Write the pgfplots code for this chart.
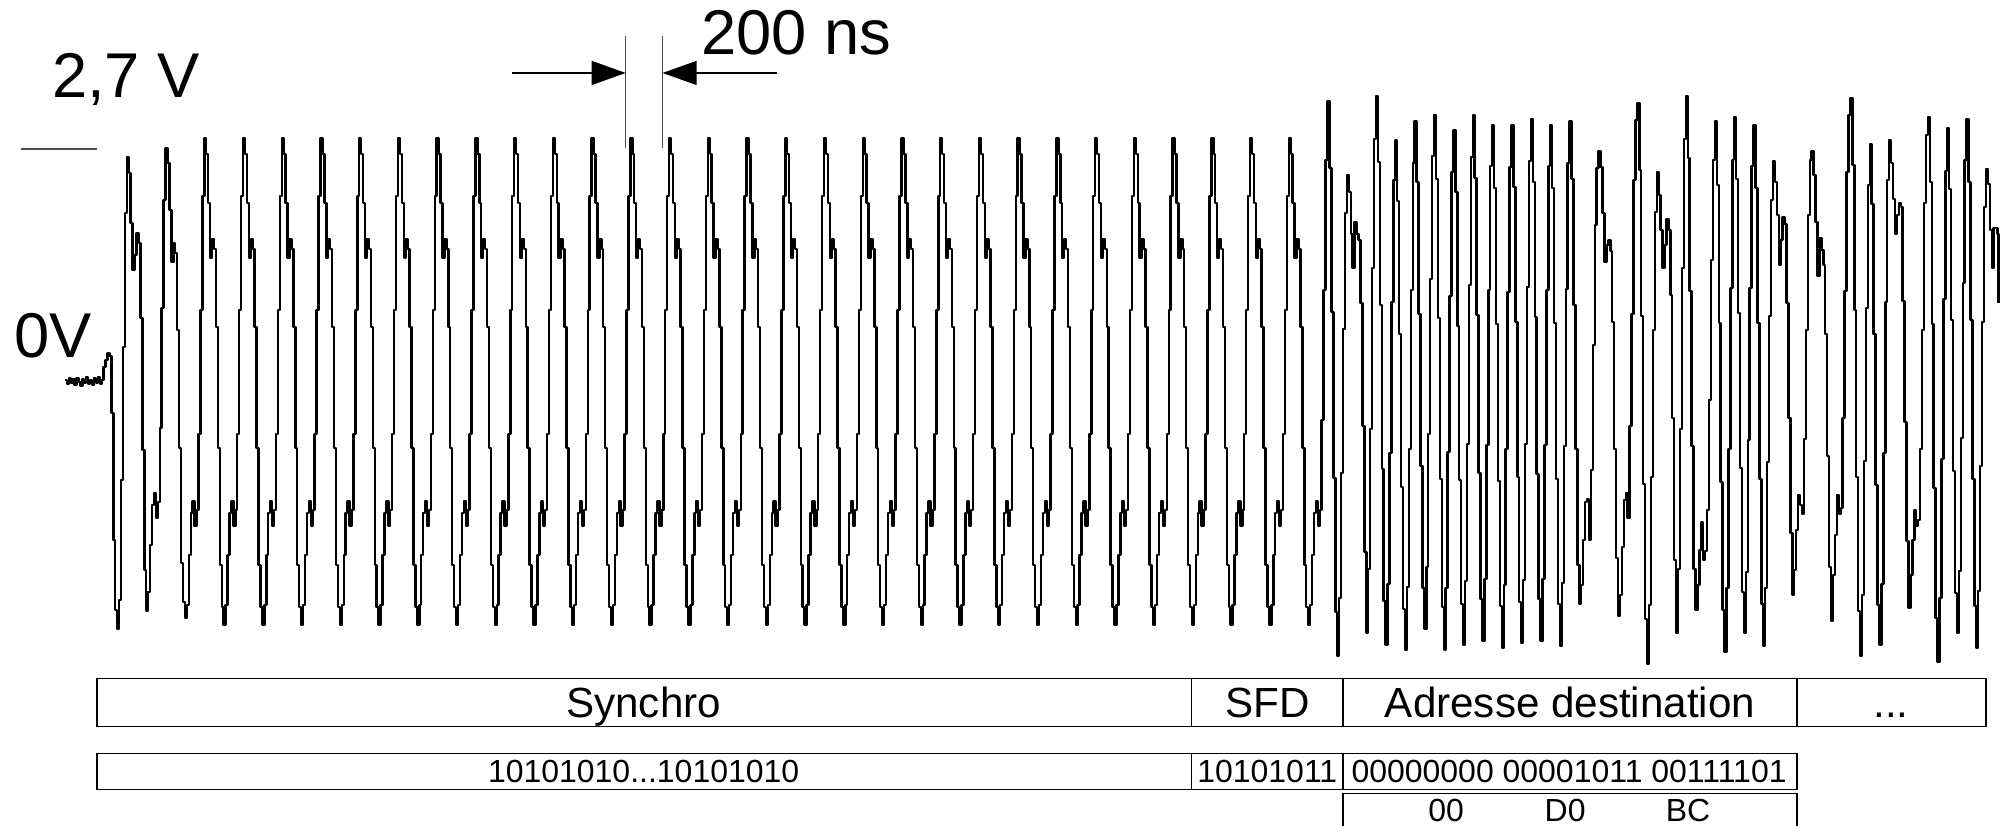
\documentclass[border=0pt]{standalone}
\usepackage{pgfplots}
\pgfplotsset{compat=1.18}
\usepackage{fontspec}
\setmainfont{Liberation Sans}
\usetikzlibrary{arrows.meta}
\begin{document}
\begin{tikzpicture}
\useasboundingbox (0,0) rectangle (20.06,8.25);
\begin{axis}[at={(0,0)}, anchor=south west, scale only axis,
  width=20.06cm, height=8.25cm,
  xmin=-0.5, xmax=1035.35, ymin=0, ymax=825, y dir=reverse,
  hide axis, clip=false]
\addplot[const plot, black, line width=0.7pt, line join=round] coordinates {
(33,380)(34,384)(35,378)(36,383)(37,379)(38,385)(39,378)(40,382)(41,386)(42,379)(43,383)(44,377)(45,384)(46,380)(47,385)(48,378)(49,383)(50,377)(51,384)(52,380)
(53,367)(54,360)(55,353)(56,356)(57,413)(58,540)(59,610)(60,629)(61,600)(62,480)(63,347)(64,213)(65,157)(66,173)(67,223)(68,270)(69,255)(70,233)(71,243)(72,318)(73,450)(74,570)
(75,611)(76,592)(77,545)(78,505)(79,493)(80,518)(81,502)(82,428)(83,308)(84,200)(85,148)(86,163)(87,210)(88,262)(89,243)(90,253)(91,330)(92,448)(93,563)(94,602)
(95,618)(96,605)(97,555)(98,513)(99,501)(100,526)(101,510)(102,434)(103,310)(104,196)(105,138)(106,154)(107,203)(108,258)(109,239)(110,249)(111,327)(112,448)(113,565)(114,607)
(115,625)(116,605)(117,555)(118,513)(119,501)(120,526)(121,510)(122,434)(123,310)(124,196)(125,138)(126,154)(127,203)(128,258)(129,239)(130,249)(131,327)(132,448)(133,565)(134,607)
(135,625)(136,605)(137,555)(138,513)(139,501)(140,526)(141,510)(142,434)(143,310)(144,196)(145,138)(146,154)(147,203)(148,258)(149,239)(150,249)(151,327)(152,448)(153,565)(154,607)
(155,625)(156,605)(157,555)(158,513)(159,501)(160,526)(161,510)(162,434)(163,310)(164,196)(165,138)(166,154)(167,203)(168,258)(169,239)(170,249)(171,327)(172,448)(173,565)(174,607)
(175,625)(176,605)(177,555)(178,513)(179,501)(180,526)(181,510)(182,434)(183,310)(184,196)(185,138)(186,154)(187,203)(188,258)(189,239)(190,249)(191,327)(192,448)(193,565)(194,607)
(195,625)(196,605)(197,555)(198,513)(199,501)(200,526)(201,510)(202,434)(203,310)(204,196)(205,138)(206,154)(207,203)(208,258)(209,239)(210,249)(211,327)(212,448)(213,565)(214,607)
(215,625)(216,605)(217,555)(218,513)(219,501)(220,526)(221,510)(222,434)(223,310)(224,196)(225,138)(226,154)(227,203)(228,258)(229,239)(230,249)(231,327)(232,448)(233,565)(234,607)
(235,625)(236,605)(237,555)(238,513)(239,501)(240,526)(241,510)(242,434)(243,310)(244,196)(245,138)(246,154)(247,203)(248,258)(249,239)(250,249)(251,327)(252,448)(253,565)(254,607)
(255,625)(256,605)(257,555)(258,513)(259,501)(260,526)(261,510)(262,434)(263,310)(264,196)(265,138)(266,154)(267,203)(268,258)(269,239)(270,249)(271,327)(272,448)(273,565)(274,607)
(275,625)(276,605)(277,555)(278,513)(279,501)(280,526)(281,510)(282,434)(283,310)(284,196)(285,138)(286,154)(287,203)(288,258)(289,239)(290,249)(291,327)(292,448)(293,565)(294,607)
(295,625)(296,605)(297,555)(298,513)(299,501)(300,526)(301,510)(302,434)(303,310)(304,196)(305,138)(306,154)(307,203)(308,258)(309,239)(310,249)(311,327)(312,448)(313,565)(314,607)
(315,625)(316,605)(317,555)(318,513)(319,501)(320,526)(321,510)(322,434)(323,310)(324,196)(325,138)(326,154)(327,203)(328,258)(329,239)(330,249)(331,327)(332,448)(333,565)(334,607)
(335,625)(336,605)(337,555)(338,513)(339,501)(340,526)(341,510)(342,434)(343,310)(344,196)(345,138)(346,154)(347,203)(348,258)(349,239)(350,249)(351,327)(352,448)(353,565)(354,607)
(355,625)(356,605)(357,555)(358,513)(359,501)(360,526)(361,510)(362,434)(363,310)(364,196)(365,138)(366,154)(367,203)(368,258)(369,239)(370,249)(371,327)(372,448)(373,565)(374,607)
(375,625)(376,605)(377,555)(378,513)(379,501)(380,526)(381,510)(382,434)(383,310)(384,196)(385,138)(386,154)(387,203)(388,258)(389,239)(390,249)(391,327)(392,448)(393,565)(394,607)
(395,625)(396,605)(397,555)(398,513)(399,501)(400,526)(401,510)(402,434)(403,310)(404,196)(405,138)(406,154)(407,203)(408,258)(409,239)(410,249)(411,327)(412,448)(413,565)(414,607)
(415,625)(416,605)(417,555)(418,513)(419,501)(420,526)(421,510)(422,434)(423,310)(424,196)(425,138)(426,154)(427,203)(428,258)(429,239)(430,249)(431,327)(432,448)(433,565)(434,607)
(435,625)(436,605)(437,555)(438,513)(439,501)(440,526)(441,510)(442,434)(443,310)(444,196)(445,138)(446,154)(447,203)(448,258)(449,239)(450,249)(451,327)(452,448)(453,565)(454,607)
(455,625)(456,605)(457,555)(458,513)(459,501)(460,526)(461,510)(462,434)(463,310)(464,196)(465,138)(466,154)(467,203)(468,258)(469,239)(470,249)(471,327)(472,448)(473,565)(474,607)
(475,625)(476,605)(477,555)(478,513)(479,501)(480,526)(481,510)(482,434)(483,310)(484,196)(485,138)(486,154)(487,203)(488,258)(489,239)(490,249)(491,327)(492,448)(493,565)(494,607)
(495,625)(496,605)(497,555)(498,513)(499,501)(500,526)(501,510)(502,434)(503,310)(504,196)(505,138)(506,154)(507,203)(508,258)(509,239)(510,249)(511,327)(512,448)(513,565)(514,607)
(515,625)(516,605)(517,555)(518,513)(519,501)(520,526)(521,510)(522,434)(523,310)(524,196)(525,138)(526,154)(527,203)(528,258)(529,239)(530,249)(531,327)(532,448)(533,565)(534,607)
(535,625)(536,605)(537,555)(538,513)(539,501)(540,526)(541,510)(542,434)(543,310)(544,196)(545,138)(546,154)(547,203)(548,258)(549,239)(550,249)(551,327)(552,448)(553,565)(554,607)
(555,625)(556,605)(557,555)(558,513)(559,501)(560,526)(561,510)(562,434)(563,310)(564,196)(565,138)(566,154)(567,203)(568,258)(569,239)(570,249)(571,327)(572,448)(573,565)(574,607)
(575,625)(576,605)(577,555)(578,513)(579,501)(580,526)(581,510)(582,434)(583,310)(584,196)(585,138)(586,154)(587,203)(588,258)(589,239)(590,249)(591,327)(592,448)(593,565)(594,607)
(595,625)(596,605)(597,555)(598,513)(599,501)(600,526)(601,510)(602,434)(603,310)(604,196)(605,138)(606,154)(607,203)(608,258)(609,239)(610,249)(611,327)(612,448)(613,565)(614,607)
(615,625)(616,605)(617,555)(618,513)(619,501)(620,526)(621,510)(622,434)(623,310)(624,196)(625,138)(626,154)(627,203)(628,258)(629,239)(630,249)(631,327)(632,448)(633,565)(634,607)
(635,625)(636,605)(637,555)(638,513)(639,501)(640,526)(641,510)(642,434)(643,310)(644,196)(645,138)(646,154)(647,203)(648,258)(649,239)(650,249)(651,327)(652,448)(653,565)(654,607)
(655,625)(656,605)(657,555)(658,513)(659,501)(660,526)(661,510)(662,434)(663,310)(664,196)(665,138)(666,154)(667,203)(668,258)(669,239)(670,249)(671,327)(672,448)(673,565)(674,607)
(675,625)(676,605)(677,555)(678,513)(679,501)(680,526)(681,510)(682,420)(683,290)(684,160)(685,101)
(686,168)(687,312)(688,478)(689,612)(690,656)(691,598)(692,473)(693,329)(694,213)(695,175)(696,192)(697,234)(698,268)(699,222)(700,234)(701,240)(702,303)(703,426)(704,552)(705,633)
(706,569)(707,429)(708,268)(709,139)(710,96)(711,162)(712,305)(713,469)(714,601)(715,645)(716,584)(717,453)(718,302)(719,180)(720,140)(721,201)(722,334)(723,487)(724,609)(725,650)
(726,587)(727,449)(728,290)(729,163)(730,121)(731,182)(732,314)(733,466)(734,588)(735,629)(736,567)(737,434)(738,279)(739,156)(740,115)(741,179)(742,318)(743,479)(744,607)(745,650)
(746,588)(747,452)(748,296)(749,172)(750,130)(751,192)(752,326)(753,480)(754,604)(755,645)(756,581)(757,444)(758,285)(759,157)(760,115)(761,178)(762,315)(763,473)(764,599)(765,641)
(766,579)(767,445)(768,290)(769,166)(770,125)(771,188)(772,324)(773,481)(774,606)(775,648)(776,585)(777,449)(778,292)(779,167)(780,125)(781,187)(782,322)(783,477)(784,602)(785,643)
(786,580)(787,444)(788,287)(789,161)(790,119)(791,182)(792,317)(793,474)(794,599)(795,641)(796,579)(797,445)(798,290)(799,166)(800,125)(801,188)(802,323)(803,479)(804,604)(805,646)
(806,583)(807,446)(808,289)(809,163)(810,121)(811,179)(812,305)(813,449)(814,565)(815,604)(816,585)(817,540)(818,502)(819,499)(820,540)(821,470)(822,345)(823,225)(824,168)(825,151)
(826,167)(827,213)(828,262)(829,245)(830,240)(831,251)(832,322)(833,449)(834,558)(835,616)(836,595)(837,547)(838,500)(839,493)(840,518)(841,426)(842,314)(843,180)(844,120)(845,103)
(846,170)(847,316)(848,484)(849,619)(850,664)(851,605)(852,477)(853,330)(854,212)(855,172)(856,195)(857,230)(858,268)(859,245)(860,219)(861,230)(862,295)(863,418)(864,560)(865,633)
(866,569)(867,429)(868,268)(869,139)(870,96)(871,158)(872,291)(873,446)(874,569)(875,610)(876,585)(877,550)(878,522)(879,560)(880,551)(881,510)(882,400)(883,260)(884,160)(885,121)
(886,185)(887,323)(888,482)(889,610)(890,652)(891,588)(892,449)(893,288)(894,160)(895,117)(896,179)(897,313)(898,468)(899,592)(900,633)(901,572)(902,440)(903,288)(904,166)(905,125)
(906,188)(907,323)(908,479)(909,604)(910,646)(911,588)(912,462)(913,316)(914,200)(915,161)(916,182)(917,215)(918,265)(919,240)(920,217)(921,224)(922,303)(923,418)(924,533)(925,595)
(926,570)(927,530)(928,495)(929,505)(930,514)(931,439)(932,330)(933,215)(934,160)(935,151)(936,175)(937,222)(938,276)(939,238)(940,250)(941,265)(942,334)(943,456)(944,567)(945,621)
(946,575)(947,535)(948,495)(949,514)(950,508)(951,418)(952,291)(953,172)(954,115)(955,98)(956,165)(957,310)(958,477)(959,611)(960,656)(961,595)(962,461)(963,308)(964,185)(965,144)
(966,204)(967,334)(968,485)(969,605)(970,645)(971,584)(972,453)(973,302)(974,180)(975,140)(976,163)(977,199)(978,234)(979,215)(980,203)(981,207)(982,301)(983,422)(984,541)(985,608)
(986,575)(987,540)(988,510)(989,526)(990,520)(991,449)(992,330)(993,203)(994,135)(995,117)(996,182)(997,324)(998,488)(999,618)(1000,662)(1001,598)(1002,459)(1003,299)(1004,171)(1005,128)
(1006,189)(1007,320)(1008,471)(1009,593)(1010,633)(1011,571)(1012,438)(1013,283)(1014,160)(1015,119)(1016,182)(1017,320)(1018,479)(1019,606)(1020,648)(1021,591)(1022,466)(1023,322)(1024,207)(1025,169)
(1026,184)(1027,230)(1028,268)(1029,228)(1030,228)(1031,234)(1031.5,303)
};
\end{axis}
\begin{scope}[x=0.01cm, y=-0.01cm, yshift=8.25cm]
% voltage scale
\draw[black!70, line width=0.4pt] (21,149) -- (97,149);
\node[anchor=base, inner sep=0pt, font=\fontsize{18}{20}\selectfont] at (126,98) {2,7 V};
\node[anchor=base, inner sep=0pt, font=\fontsize{18}{20}\selectfont] at (53,358) {0V};
% time marker
\draw[black!70, line width=0.4pt] (626,36) -- (626,148);
\draw[black!70, line width=0.4pt] (663,36) -- (663,148);
\draw[line width=0.4pt, -{Triangle[length=0.34cm,width=0.24cm]}] (512,73) -- (626,73);
\draw[line width=0.4pt, -{Triangle[length=0.34cm,width=0.24cm]}] (777,73) -- (663,73);
\node[anchor=base, inner sep=0pt, font=\fontsize{18}{20}\selectfont] at (797,55) {200 ns};
% frame boxes
\draw[line width=0.45pt] (97,679) rectangle (1987,727);
\draw[line width=0.45pt] (1192,679) -- (1192,727);
\draw[line width=0.45pt] (1344,679) -- (1344,727);
\draw[line width=0.45pt] (1798,679) -- (1798,727);
\node[anchor=base, inner sep=0pt, font=\fontsize{12}{14}\selectfont] at (644,718) {Synchro};
\node[anchor=base, inner sep=0pt, font=\fontsize{12}{14}\selectfont] at (1268,718) {SFD};
\node[anchor=base, inner sep=0pt, font=\fontsize{12}{14}\selectfont] at (1571,718) {Adresse destination};
\node[anchor=base, inner sep=0pt, font=\fontsize{12}{14}\selectfont] at (1892,718) {...};
\draw[line width=0.45pt] (97,754) rectangle (1798,790);
\draw[line width=0.45pt] (1192,754) -- (1192,790);
\draw[line width=0.45pt] (1344,754) -- (1344,790);
\node[anchor=base, inner sep=0pt, font=\fontsize{9.1}{11}\selectfont] at (644,783) {10101010...10101010};
\node[anchor=base, inner sep=0pt, font=\fontsize{9.1}{11}\selectfont] at (1268,783) {10101011};
\node[anchor=base, inner sep=0pt, font=\fontsize{9.1}{11}\selectfont] at (1570,783) {00000000 00001011 00111101};
\draw[line width=0.45pt] (1344,826) -- (1344,794) -- (1798,794) -- (1798,826);
\node[anchor=base, inner sep=0pt, font=\fontsize{9.1}{11}\selectfont] at (1447,822) {00};
\node[anchor=base, inner sep=0pt, font=\fontsize{9.1}{11}\selectfont] at (1566,822) {D0};
\node[anchor=base, inner sep=0pt, font=\fontsize{9.1}{11}\selectfont] at (1689,822) {BC};
\end{scope}
\end{tikzpicture}
\end{document}
